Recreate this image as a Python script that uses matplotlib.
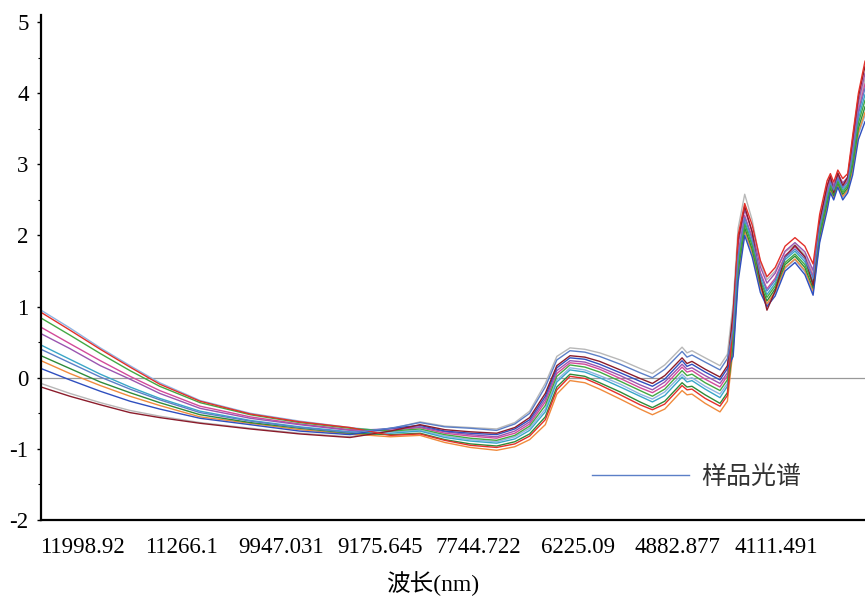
import matplotlib
matplotlib.use("Agg")
import matplotlib.pyplot as plt
from matplotlib.ticker import MultipleLocator

plt.rcParams['font.family'] = ['Liberation Serif', 'Noto Sans CJK SC', 'DejaVu Sans']
plt.rcParams['axes.unicode_minus'] = False

# sample index along the spectrum (axis runs 0..1000)
x = [0, 35, 72, 108, 144, 193, 254, 314, 375,
     424, 460, 490, 521, 553, 575, 593, 612, 626, 642, 660, 678, 703, 727, 742, 757, 778, 784, 790, 806, 824, 833,
     840, 846, 854, 863, 873, 881, 891, 903, 915, 927, 937, 945, 954, 958, 962, 967, 973, 979, 985, 992, 1000]

# absorbance of the sample spectra
s_blue = [0.40, 0.21, 0.01, -0.16, -0.31, -0.49, -0.61, -0.70, -0.77,
          -0.71, -0.63, -0.69, -0.71, -0.74, -0.65, -0.50, -0.13, 0.25, 0.38, 0.36, 0.30, 0.19, 0.07, 0.00, 0.12, 0.37, 0.29, 0.32, 0.22, 0.11, 0.27,
          0.69, 1.71, 2.25, 1.95, 1.45, 1.22, 1.37, 1.69, 1.81, 1.67, 1.40, 2.12, 2.58, 2.75, 2.64, 2.81, 2.67, 2.75, 3.15, 3.71, 4.07]
s_red = [0.92, 0.67, 0.40, 0.15, -0.09, -0.33, -0.51, -0.62, -0.70,
         -0.81, -0.79, -0.88, -0.95, -0.98, -0.93, -0.82, -0.59, -0.17, 0.02, -0.01, -0.10, -0.24, -0.38, -0.45, -0.37, -0.11, -0.17, -0.16, -0.29, -0.40, -0.25,
         0.80, 2.00, 2.45, 2.15, 1.65, 1.42, 1.55, 1.85, 1.97, 1.85, 1.60, 2.30, 2.77, 2.87, 2.75, 2.92, 2.80, 2.87, 3.40, 4.00, 4.45]
s_green = [0.84, 0.60, 0.34, 0.10, -0.12, -0.35, -0.52, -0.63, -0.71,
           -0.75, -0.72, -0.80, -0.85, -0.88, -0.81, -0.68, -0.39, 0.02, 0.18, 0.15, 0.08, -0.05, -0.18, -0.26, -0.16, 0.10, 0.03, 0.05, -0.07, -0.18, -0.03,
           0.55, 1.58, 2.16, 1.86, 1.36, 1.13, 1.29, 1.62, 1.74, 1.59, 1.31, 2.04, 2.50, 2.70, 2.59, 2.76, 2.61, 2.70, 3.04, 3.58, 3.90]
s_purple = [0.62, 0.41, 0.17, -0.02, -0.22, -0.43, -0.57, -0.66, -0.74,
            -0.72, -0.69, -0.76, -0.80, -0.83, -0.75, -0.62, -0.30, 0.10, 0.24, 0.22, 0.15, 0.03, -0.10, -0.17, -0.06, 0.19, 0.12, 0.14, 0.03, -0.08, 0.07,
            0.86, 1.87, 2.36, 2.06, 1.56, 1.33, 1.47, 1.78, 1.90, 1.77, 1.51, 2.22, 2.69, 2.82, 2.70, 2.87, 2.74, 2.82, 3.29, 3.87, 4.28]
s_cyan = [0.46, 0.26, 0.05, -0.13, -0.29, -0.47, -0.60, -0.69, -0.76,
          -0.78, -0.75, -0.84, -0.89, -0.92, -0.86, -0.74, -0.48, -0.06, 0.11, 0.08, 0.00, -0.13, -0.26, -0.34, -0.25, 0.01, -0.06, -0.04, -0.16, -0.28, -0.12,
          0.62, 1.64, 2.20, 1.90, 1.40, 1.17, 1.33, 1.66, 1.78, 1.63, 1.35, 2.08, 2.54, 2.72, 2.61, 2.79, 2.64, 2.72, 3.10, 3.64, 3.98]
s_orange = [0.24, 0.06, -0.11, -0.26, -0.39, -0.55, -0.64, -0.73, -0.79,
            -0.83, -0.81, -0.91, -0.98, -1.02, -0.97, -0.87, -0.66, -0.23, -0.04, -0.07, -0.16, -0.30, -0.44, -0.52, -0.44, -0.18, -0.24, -0.23, -0.36, -0.48, -0.33,
            0.41, 1.45, 2.07, 1.77, 1.27, 1.04, 1.21, 1.55, 1.67, 1.51, 1.22, 1.96, 2.41, 2.64, 2.54, 2.72, 2.55, 2.64, 2.93, 3.45, 3.73]
s_darkred = [-0.13, -0.26, -0.38, -0.49, -0.56, -0.64, -0.72, -0.79, -0.84,
             -0.75, -0.66, -0.73, -0.76, -0.78, -0.70, -0.56, -0.22, 0.17, 0.31, 0.29, 0.23, 0.11, -0.01, -0.08, 0.03, 0.28, 0.20, 0.23, 0.12, 0.01, 0.17,
             0.93, 1.94, 2.41, 2.05, 1.35, 0.95, 1.22, 1.70, 1.86, 1.70, 1.30, 2.20, 2.70, 2.84, 2.60, 2.88, 2.70, 2.82, 3.35, 3.95, 4.38]
s_gray = [-0.08, -0.22, -0.35, -0.46, -0.54, -0.63, -0.71, -0.78, -0.83,
          -0.72, -0.62, -0.68, -0.70, -0.72, -0.63, -0.47, -0.08, 0.30, 0.42, 0.40, 0.35, 0.25, 0.13, 0.06, 0.18, 0.43, 0.35, 0.38, 0.28, 0.17, 0.33,
          1.05, 2.10, 2.58, 2.22, 1.62, 1.38, 1.50, 1.77, 1.87, 1.73, 1.47, 2.18, 2.64, 2.79, 2.68, 2.85, 2.71, 2.79, 3.23, 3.80, 4.20]
s_magenta = [0.71, 0.48, 0.24, 0.02, -0.18, -0.40, -0.55, -0.65, -0.73,
             -0.74, -0.70, -0.78, -0.82, -0.85, -0.78, -0.65, -0.34, 0.06, 0.21, 0.19, 0.12, -0.01, -0.14, -0.21, -0.11, 0.15, 0.08, 0.10, -0.02, -0.13, 0.03,
             0.73, 1.75, 2.28, 1.98, 1.48, 1.25, 1.40, 1.72, 1.84, 1.70, 1.43, 2.15, 2.61, 2.77, 2.66, 2.83, 2.69, 2.77, 3.19, 3.75, 4.13]
s_darkgreen = [0.31, 0.13, -0.06, -0.21, -0.35, -0.52, -0.63, -0.71, -0.78,
               -0.80, -0.78, -0.87, -0.93, -0.96, -0.90, -0.79, -0.55, -0.13, 0.05, 0.02, -0.07, -0.20, -0.34, -0.42, -0.33, -0.07, -0.13, -0.12, -0.24, -0.36, -0.21,
               0.48, 1.51, 2.11, 1.81, 1.31, 1.08, 1.25, 1.59, 1.71, 1.55, 1.26, 2.00, 2.46, 2.67, 2.56, 2.74, 2.58, 2.67, 2.99, 3.51, 3.81]
s_lightblue = [0.95, 0.70, 0.42, 0.17, -0.07, -0.32, -0.50, -0.61, -0.70,
               -0.76, -0.74, -0.82, -0.87, -0.90, -0.83, -0.71, -0.44, -0.03, 0.14, 0.11, 0.03, -0.09, -0.23, -0.30, -0.20, 0.05, -0.02, 0.00, -0.12, -0.23, -0.08,
               0.37, 1.42, 2.05, 1.75, 1.25, 1.02, 1.19, 1.54, 1.66, 1.49, 1.20, 1.94, 2.39, 2.63, 2.53, 2.70, 2.53, 2.63, 2.91, 3.42, 3.69]
s_navy = [0.13, -0.03, -0.19, -0.33, -0.44, -0.57, -0.66, -0.75, -0.80,
          -0.71, -0.67, -0.75, -0.78, -0.80, -0.72, -0.59, -0.26, 0.14, 0.28, 0.26, 0.19, 0.07, -0.05, -0.12, -0.02, 0.24, 0.16, 0.19, 0.08, -0.03, 0.13,
          0.30, 1.35, 2.00, 1.70, 1.20, 1.00, 1.15, 1.50, 1.62, 1.45, 1.16, 1.90, 2.35, 2.60, 2.50, 2.68, 2.50, 2.60, 2.85, 3.35, 3.60]

spectra = [s_gray, s_lightblue, s_orange, s_darkgreen, s_cyan, s_magenta,
           s_purple, s_green, s_navy, s_darkred, s_red, s_blue]
colors = ['#b8b8b8', '#8fb4e3', '#f08a3c', '#2e8b3a', '#3aa6c8', '#d24a9a',
          '#9a55b0', '#43a843', '#2f4fbf', '#8b1c2b', '#e3302a', '#5b7fc7']

tick_labels = ['11998.92', '11266.1', '9947.031', '9175.645',
               '7744.722', '6225.09', '4882.877', '4111.491']
tick_pos = [50, 170, 291, 411, 531, 652, 772, 892]

fig = plt.figure(figsize=(8.65, 5.96), dpi=100)
ax = fig.add_axes([41 / 865, 76 / 596, 824 / 865, 505 / 596])

ax.axhline(0, color='#999999', lw=0.9, zorder=1)
for i, (s, c) in enumerate(zip(spectra, colors)):
    ax.plot(x, s, color=c, lw=1.0, zorder=2,
            label='样品光谱' if i == len(spectra) - 1 else None)

ax.set_xlim(0, 1000)
ax.set_ylim(-2, 5.1)
ax.set_xticks(tick_pos)
ax.set_xticklabels(tick_labels)
ax.yaxis.set_major_locator(MultipleLocator(1))
ax.yaxis.set_minor_locator(MultipleLocator(0.5))
ax.tick_params(axis='x', length=0, pad=12, labelsize=16.5)
ax.tick_params(axis='y', which='major', length=3, width=1, pad=6, labelsize=16.5)
ax.tick_params(axis='y', which='minor', length=2, width=0.8)

for side in ['top', 'right']:
    ax.spines[side].set_visible(False)
for side in ['left', 'bottom']:
    ax.spines[side].set_linewidth(1.6)

ax.set_xlabel('波长(nm)', fontsize=17, x=0.475, labelpad=10)

leg = ax.legend(loc='center left', bbox_to_anchor=(0.669, 0.085), frameon=False,
                fontsize=18, handlelength=3.85, handletextpad=0.5,
                borderpad=0, borderaxespad=0)
for t in leg.get_texts():
    t.set_color('#333333')

plt.savefig('out.png', dpi=100)
